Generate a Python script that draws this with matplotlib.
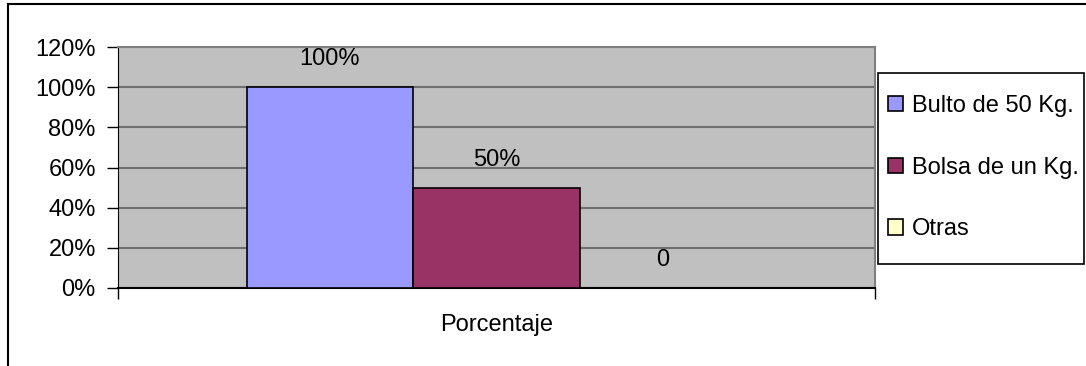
import matplotlib.pyplot as plt
from matplotlib.lines import Line2D
from matplotlib.patches import Rectangle

plt.rcParams['font.family'] = ['Liberation Sans', 'DejaVu Sans']

# datos
series = ['Bulto de 50 Kg.', 'Bolsa de un Kg.', 'Otras']
valores = [1.0, 0.5, 0.0]
etiquetas = ['100%', '50%', '0']
categoria = 'Porcentaje'
colores = ['#9999FF', '#993366', '#FFFFCC']
yticks = [0, 0.2, 0.4, 0.6, 0.8, 1.0, 1.2]

W, H = 1086, 366
fig = plt.figure(figsize=(W / 100, H / 100), dpi=100)
ax = fig.add_axes([118 / W, 1 - 288 / H, 757 / W, 241 / H])
ax.set_facecolor('#C0C0C0')

ancho = 0.22
posiciones = [(i - 1) * ancho for i in range(len(series))]
for x, v, c, s, et in zip(posiciones, valores, colores, series, etiquetas):
    ax.bar(x, v, width=ancho, color=c, edgecolor='black', linewidth=1.2, label=s, zorder=3)
    ax.annotate(et, (x, v), xytext=(0, 20), textcoords='offset points',
                ha='center', va='center', fontsize=17)

ax.set_xlim(-0.5, 0.5)
ax.set_ylim(0, 1.2)
ax.set_yticks(yticks)
ax.set_yticklabels(['%d%%' % round(t * 100) for t in yticks], fontsize=17)
ax.yaxis.grid(True, color='#6E6E6E', linewidth=1.5, zorder=1)
ax.set_axisbelow(True)
ax.tick_params(axis='y', length=8, width=1, color='black', pad=8)
ax.set_xticks([-0.5, 0.5])
ax.set_xticklabels(['', ''])
ax.tick_params(axis='x', length=8, width=1, color='black')
ax.set_xlabel(categoria, fontsize=17, labelpad=7)
for lado in ['top', 'right']:
    ax.spines[lado].set_color('#808080')
    ax.spines[lado].set_linewidth(1.5)
ax.spines['left'].set_color('black')
ax.spines['bottom'].set_color('black')
ax.spines['bottom'].set_linewidth(1.5)

# leyenda sin marco + marco aparte
leg = fig.legend(loc='upper left', bbox_to_anchor=(888 / W, 1 - 95 / H),
                 fontsize=17, frameon=False, borderaxespad=0, borderpad=0,
                 handlelength=0.62, handleheight=0.62, handletextpad=0.38,
                 labelspacing=1.68)
for h in leg.legend_handles:
    h.set_edgecolor('black')
    h.set_linewidth(1.2)
fig.add_artist(Rectangle((878 / W, 1 - 264 / H), 206 / W, 191 / H,
                         transform=fig.transFigure, facecolor='white',
                         edgecolor='black', linewidth=1.2, zorder=-1))

# marco exterior
fig.add_artist(Line2D([8 / W, 8 / W], [0, 1 - 4 / H], color='black', linewidth=1.5))
fig.add_artist(Line2D([8 / W, 1], [1 - 4 / H, 1 - 4 / H], color='black', linewidth=1.5))

plt.savefig('out.png', dpi=100)
